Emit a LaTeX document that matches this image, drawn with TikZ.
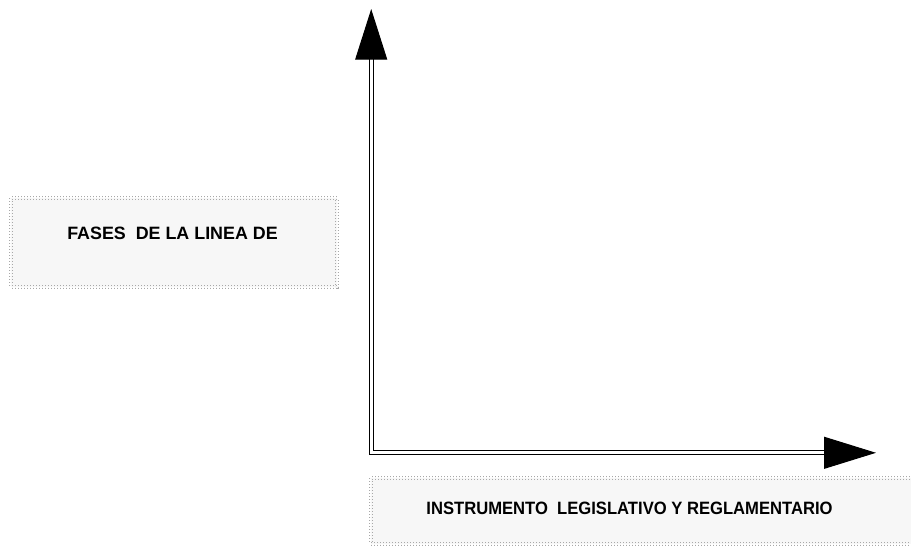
\documentclass[tikz,border=0pt]{standalone}
\usepackage{fontspec}
\setmainfont{Liberation Sans}
\usepackage{tikz}
\usetikzlibrary{positioning}
\usetikzlibrary{arrows.meta}
\usepackage{xcolor}
\definecolor{panelfill}{HTML}{F7F7F7}
\definecolor{paneledge}{HTML}{A8A8A8}

\begin{document}
\begin{tikzpicture}[x=0.75pt,y=-0.75pt,
    panel/.style={draw=paneledge,fill=panelfill,line width=0.7pt,dash pattern=on 0.75pt off 1.5pt,
                  double=panelfill,double distance=2pt},
    caption/.style={font=\bfseries\fontsize{13.4}{16}\selectfont,inner sep=0pt},
    axis/.style={line width=0.8pt,double=white,double distance=2.4pt,
                 {Triangle[length=38pt,width=24pt]}-{Triangle[length=39pt,width=24pt]}}]
  \useasboundingbox[fill=white] (0,0) rectangle (911,546);
  % panels behind the labels
  \draw[panel] (11,198) rectangle (337,287);
  \draw[panel] (371,478) rectangle (990,544);
  \begin{scope}[every node/.style={caption}]
    \node (phases) at (172.5,233) {FASES \ DE LA LINEA DE};
    \node[xscale=0.93,transform shape] (instrument) at (629.5,508.5) {INSTRUMENTO \ LEGISLATIVO Y REGLAMENTARIO};
  \end{scope}
  % axes
  \coordinate (top) at (371.2,9);
  \coordinate (origin) at (371.2,452.8);
  \coordinate (right) at (876,452.8);
  \draw[axis] (top) -- (origin) -- (right);
\end{tikzpicture}
\end{document}
